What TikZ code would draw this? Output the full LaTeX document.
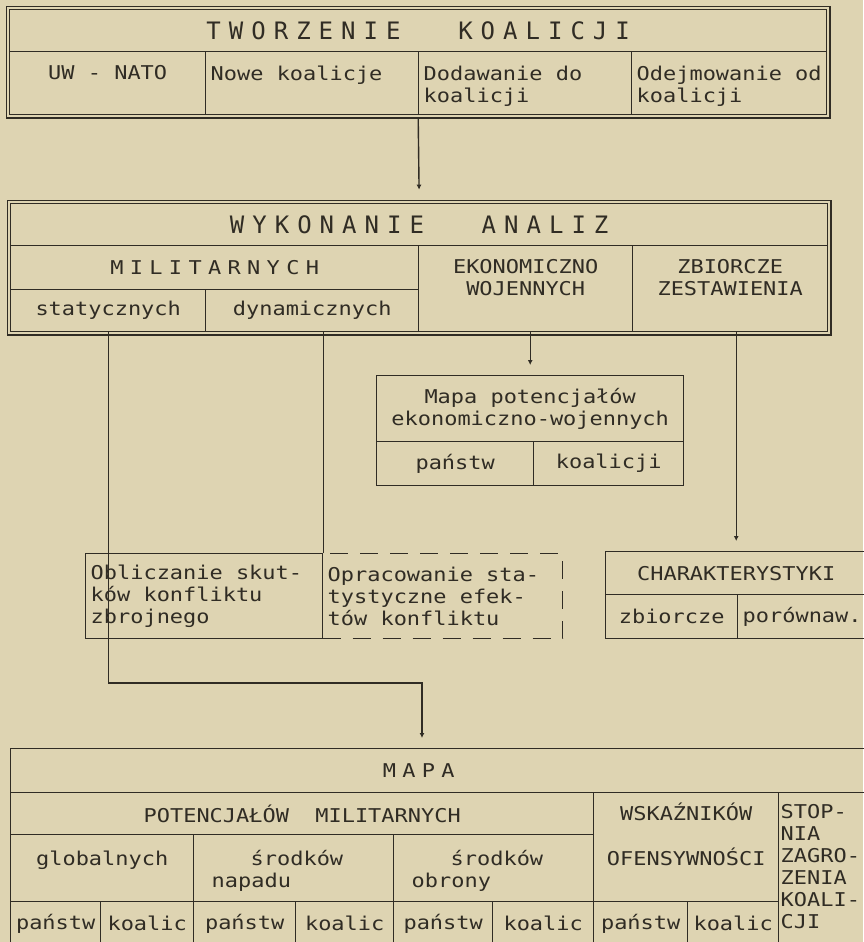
\documentclass[tikz,border=0pt]{standalone}
\usepackage{fontspec}
\usetikzlibrary{positioning,fit,arrows.meta}
\newfontfamily\cellfont{DejaVu Sans Mono}[FakeStretch=1.155]
\newfontfamily\headfont{DejaVu Sans Mono}
\definecolor{paper}{RGB}{222,212,178}
\definecolor{ink}{RGB}{48,44,36}
\hyphenpenalty=10000
\exhyphenpenalty=10000

\tikzstyle{cell}=[draw=ink, rectangle, anchor=north west, inner sep=0pt, line width=1.4pt, text=ink, align=center, font=\cellfont\fontsize{19}{22}\selectfont]
\tikzstyle{lft}=[align=left]
\tikzstyle{head}=[font=\headfont\fontsize{24}{28}\selectfont]
\tikzstyle{frame}=[draw=ink, line width=1.6pt, inner sep=2.5pt]
\tikzstyle{conn}=[draw=ink, line width=1.4pt]
\tikzstyle{tip}=[-{Latex[length=5pt,width=5pt]}, shorten >=10pt]
\tikzset{wh/.style 2 args={minimum width=#1pt, minimum height=#2pt, text width=#1pt-10pt}}
\newcommand{\tp}[2]{\vbox to #1pt{\noindent #2\par\vfill}}
\newcommand{\blank}{\mbox{\phantom{x}}}

\begin{document}
\begin{tikzpicture}[x=1pt, y=-1pt]
	\fill[paper] (0,0) rectangle (863,942);
	\useasboundingbox (0,0) rectangle (863,942);

	% Tworzenie koalicji
	\node(twT) at (9,9) [cell, head, wh={817}{42}] {T W O R Z E N I E\blank\blank\blank\blank K O A L I C J I};
	\node(uw) at (9,51) [cell, wh={196}{63}] {\tp{35}{UW\blank-\blank NATO}};
	\node(nowe) at (205,51) [cell, lft, wh={213}{63}] {\tp{35}{Nowe\blank koalicje}};
	\node(dod) at (418,51) [cell, lft, wh={213}{63}] {\tp{35}{Dodawanie\blank do\\koalicji}};
	\node(odj) at (631,51) [cell, lft, wh={195}{63}] {\tp{35}{Odejmowanie\blank od\\koalicji}};
	\node(tw) [frame, fit=(twT)(uw)(odj)] {};

	% Wykonanie analiz
	\node(wyT) at (10,203) [cell, head, wh={817}{42}] {W Y K O N A N I E\blank\blank\blank\blank A N A L I Z};
	\node(mil) at (10,245) [cell, wh={408}{44}] {M I L I T A R N Y C H};
	\node(stat) at (10,289) [cell, wh={195}{42}] {statycznych};
	\node(dyn) at (205,289) [cell, wh={213}{42}] {dynamicznych};
	\node(ekon) at (418,245) [cell, wh={214}{86}] {\tp{58}{EKONOMICZNO\\WOJENNYCH}};
	\node(zbior) at (632,245) [cell, wh={195}{86}] {\tp{58}{ZBIORCZE\\ZESTAWIENIA}};
	\node(wyk) [frame, fit=(wyT)(stat)(zbior)] {};

	% Mapa potencjalow ekonomiczno-wojennych
	\node(mapT) at (376,375) [cell, wh={307}{66}] {Mapa\blank potencjałów\\ekonomiczno-wojennych};
	\node(mPan) at (376,441) [cell, wh={157}{44}] {państw};
	\node(mKoa) at (533,441) [cell, wh={150}{44}] {koalicji};

	% Skutki konfliktu
	\node(opr) at (322,553) [cell, lft, dashed, dash pattern=on 18pt off 12pt, wh={240}{85}] {Opracowanie\blank sta-\\tystyczne\blank efek-\\tów\blank konfliktu};
	\node(obl) at (85,553) [cell, lft, wh={237}{85}] {Obliczanie\blank skut-\\ków\blank konfliktu\\zbrojnego};

	% Charakterystyki
	\node(char) at (605,551) [cell, wh={261}{43}] {CHARAKTERYSTYKI};
	\node(zb) at (605,594) [cell, wh={132}{44}] {zbiorcze};
	\node(por) at (737,594) [cell, lft, wh={129}{44}] {porównaw.};

	% Mapa
	\node(mapa) at (10,748) [cell, wh={856}{44}] {M A P A\hspace*{40pt}};
	\node(pot) at (10,792) [cell, wh={583}{42}] {POTENCJAŁÓW\blank\blank MILITARNYCH};
	\node(glob) at (10,834) [cell, wh={183}{67}] {\tp{35}{globalnych}};
	\node(napad) at (193,834) [cell, lft, wh={200}{67}] {\tp{35}{\hspace*{52pt}środków\\\hspace*{13pt}napadu}};
	\node(obr) at (393,834) [cell, lft, wh={200}{67}] {\tp{35}{\hspace*{52pt}środków\\\hspace*{13pt}obrony}};
	\node(wsk) at (593,792) [cell, wh={185}{109}] {\tp{89}{WSKAŹNIKÓW\\[23pt]OFENSYWNOŚCI}};
	\node(stop) at (778,792) [cell, lft, wh={88}{153}, text width=84pt] {\tp{129}{STOP-\\NIA\\ZAGRO-\\ZENIA\\KOALI-\\CJI}};
	\foreach \x/\cw/\nm/\lab in {10/90/gPan/państw, 100/93/gKoa/koalic, 193/102/nPan/państw, 295/98/nKoa/koalic,
		393/99/oPan/państw, 492/101/oKoa/koalic, 593/94/wPan/państw, 687/91/wKoa/koalic}
		{
			\node(\nm) at (\x,901) [cell, wh={\cw}{44}] {\lab};
		}

	% Polaczenia
	\coordinate(elbow) at (422,683);
	\draw[conn, tip] (tw.south) -- (wyk.north);
	\draw[conn, tip] (stat.south) |- (elbow) -- (elbow |- mapa.north);
	\draw[conn] (obl.north east |- dyn.south) -- (obl.north east);
	\draw[conn, tip] (mapT.north |- ekon.south) -- (mapT.north);
	\draw[conn, tip] (char.north |- zbior.south) -- (char.north);

\end{tikzpicture}
\end{document}
